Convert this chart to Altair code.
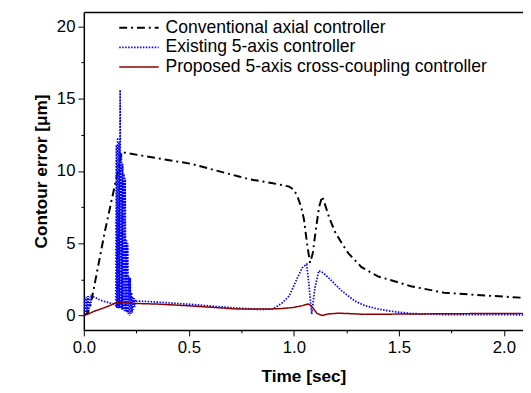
import altair as alt
import pandas as pd

# Conventional axial controller
t_conv = [0, 0.02, 0.04, 0.10, 0.164, 0.18, 0.30, 0.508, 0.743, 0.79, 0.90, 0.978, 1.0, 1.017,
          1.035, 1.048, 1.064, 1.077, 1.090, 1.103, 1.12, 1.135, 1.15, 1.17, 1.197, 1.228, 1.26,
          1.322, 1.40, 1.557, 1.714, 1.87, 2.1]
v_conv = [0, 0.2, 1.3, 5.8, 10.1, 11.3, 11.0, 10.5, 9.6, 9.42, 9.15, 8.92, 8.7, 8.24,
          7.5, 6.66, 4.85, 3.65, 4.3, 5.76, 7.5, 8.24, 7.6, 6.7, 5.76, 5.0, 4.3,
          3.35, 2.71, 2.03, 1.58, 1.42, 1.22]

# Existing 5-axis controller
t_exist = [0, 0.004, 0.008, 0.012, 0.016, 0.020, 0.024, 0.028, 0.032, 0.036, 0.040, 0.055,
           0.07, 0.09, 0.117, 0.135, 0.149,
           0.152, 0.155, 0.158, 0.161, 0.164, 0.167, 0.170, 0.173, 0.176, 0.179, 0.182,
           0.185, 0.188, 0.191, 0.194, 0.197, 0.200, 0.203, 0.206, 0.209, 0.212, 0.215,
           0.218, 0.221, 0.224, 0.227, 0.230, 0.233, 0.236, 0.239, 0.242, 0.245, 0.250,
           0.305, 0.40, 0.493, 0.60, 0.728, 0.837, 0.90, 0.947, 0.978, 1.017, 1.04, 1.061,
           1.072, 1.085, 1.10, 1.119, 1.14, 1.166, 1.228, 1.291, 1.338, 1.40, 1.46, 1.556,
           1.70, 2.1]
v_exist = [0, 1.2, 0.1, 1.3, 0.2, 1.35, 0.4, 1.3, 0.6, 1.35, 1.3, 1.25,
           1.13, 1.0, 0.9, 0.82, 0.75,
           0.7, 11.8, 0.5, 12.3, 0.5, 12.0, 0.5, 15.6, 0.5, 11.2, 0.4,
           10.5, 0.4, 9.8, 0.3, 9.5, 0.3, 5.2, 0.2, 5.0, 0.1, 2.7,
           0.0, 2.6, 0.1, 1.6, 0.2, 1.3, 0.4, 1.2, 0.6, 1.1, 1.0,
           0.97, 0.88, 0.79, 0.66, 0.52, 0.42, 0.45, 0.9, 1.36, 2.6, 3.3, 3.55,
           2.1, 0.1, 1.9, 3.1, 2.95, 2.6, 1.7, 1.0, 0.68, 0.45, 0.3, 0.14,
           0.07, 0.05]

# Proposed 5-axis cross-coupling controller
t_prop = [0, 0.02, 0.05, 0.10, 0.157, 0.20, 0.258, 0.352, 0.493, 0.60, 0.728, 0.884, 0.94,
          1.0, 1.04, 1.068, 1.08, 1.095, 1.11, 1.135, 1.15, 1.166, 1.213, 1.27, 1.338, 1.5,
          1.8, 2.1]
v_prop = [0, 0.1, 0.3, 0.55, 0.9, 0.87, 0.83, 0.79, 0.68, 0.58, 0.45, 0.45, 0.48,
          0.56, 0.68, 0.8, 0.7, 0.45, 0.15, 0.0, 0.06, 0.11, 0.16, 0.13, 0.08, 0.1,
          0.13, 0.15]

names = ["Conventional axial controller", "Existing 5-axis controller",
         "Proposed 5-axis cross-coupling controller"]
colors = ["#000000", "#0000FF", "#8B0000"]
dashes = [[8, 4, 2, 4], [1.5, 1.5], [1, 0]]
widths = [2, 1.5, 2]

x_major = [0, 0.5, 1.0, 1.5, 2.0]
x_minor = [0.25, 0.75, 1.25, 1.75]
y_major = [0, 5, 10, 15, 20]
y_minor = [2.5, 7.5, 12.5, 17.5]

rows = []
for k, (ts, vs) in enumerate([(t_conv, v_conv), (t_exist, v_exist), (t_prop, v_prop)]):
    for i, (t, v) in enumerate(zip(ts, vs)):
        rows.append({"t": t, "v": v, "series": names[k], "order": i})
df = pd.DataFrame(rows)

FONT = "Liberation Sans"
xs = alt.Scale(domain=[0, 2.091], nice=False, zero=False)
ys = alt.Scale(domain=[-1, 21], nice=False, zero=False)

base = alt.Chart(df)

lines = base.mark_line(clip=True).encode(
    x=alt.X("t:Q", scale=xs, axis=alt.Axis(
        values=x_major, format=".1f", title="Time [sec]", tickSize=6, labelPadding=4,
        titlePadding=12, domainWidth=1.5, domainColor="black", tickColor="black",
        grid=False, labelFlush=False)),
    y=alt.Y("v:Q", scale=ys, axis=alt.Axis(
        values=y_major, format="d", title="Contour error [\u03bcm]", tickSize=6,
        labelPadding=3, titlePadding=6, domainWidth=1.5, domainColor="black",
        tickColor="black", grid=False, labelFlush=False)),
    order="order:Q",
    color=alt.Color("series:N", scale=alt.Scale(domain=names, range=colors),
                    legend=alt.Legend(title=None)),
    strokeDash=alt.StrokeDash("series:N", scale=alt.Scale(domain=names, range=dashes),
                              legend=alt.Legend(title=None)),
    strokeWidth=alt.StrokeWidth("series:N", scale=alt.Scale(domain=names, range=widths),
                                legend=None),
)

minor = base.mark_line(opacity=0).encode(
    x=alt.X("t:Q", scale=xs, axis=alt.Axis(
        values=x_minor, labels=False, domain=False, tickSize=3, title=None, grid=False,
        orient="bottom", tickColor="black")),
    y=alt.Y("v:Q", scale=ys, axis=alt.Axis(
        values=y_minor, labels=False, domain=False, tickSize=3, title=None, grid=False,
        orient="left", tickColor="black")),
)

top = base.mark_line(opacity=0).encode(
    x=alt.X("t:Q", scale=xs, axis=alt.Axis(
        orient="top", labels=False, ticks=False, title=None, grid=False,
        domainWidth=1.5, domainColor="black")),
    y=alt.Y("v:Q", scale=ys, axis=None),
)

chart = alt.layer(lines, minor, top).resolve_axis(
    x="independent", y="independent"
).properties(
    width=446, height=323,
    autosize=alt.AutoSizeParams(type="none"),
    padding={"left": 77, "top": 1, "right": 0, "bottom": 60},
    background="white",
).configure_view(stroke=None).configure_axis(
    labelFont=FONT, labelFontSize=17, labelColor="black",
    titleFont=FONT, titleFontSize=17.5, titleFontWeight="bold", titleColor="black",
).configure_legend(
    orient="none", legendX=45, legendY=5, padding=0,
    symbolType="M-2,0H2", symbolSize=400, symbolStrokeWidth=2,
    symbolFillColor="transparent",
    labelFont=FONT, labelFontSize=17.8, labelColor="black", labelOffset=16,
    rowPadding=0, labelLimit=400,
)

chart.save("out.html", embed_options={"renderer": "svg", "actions": False})
